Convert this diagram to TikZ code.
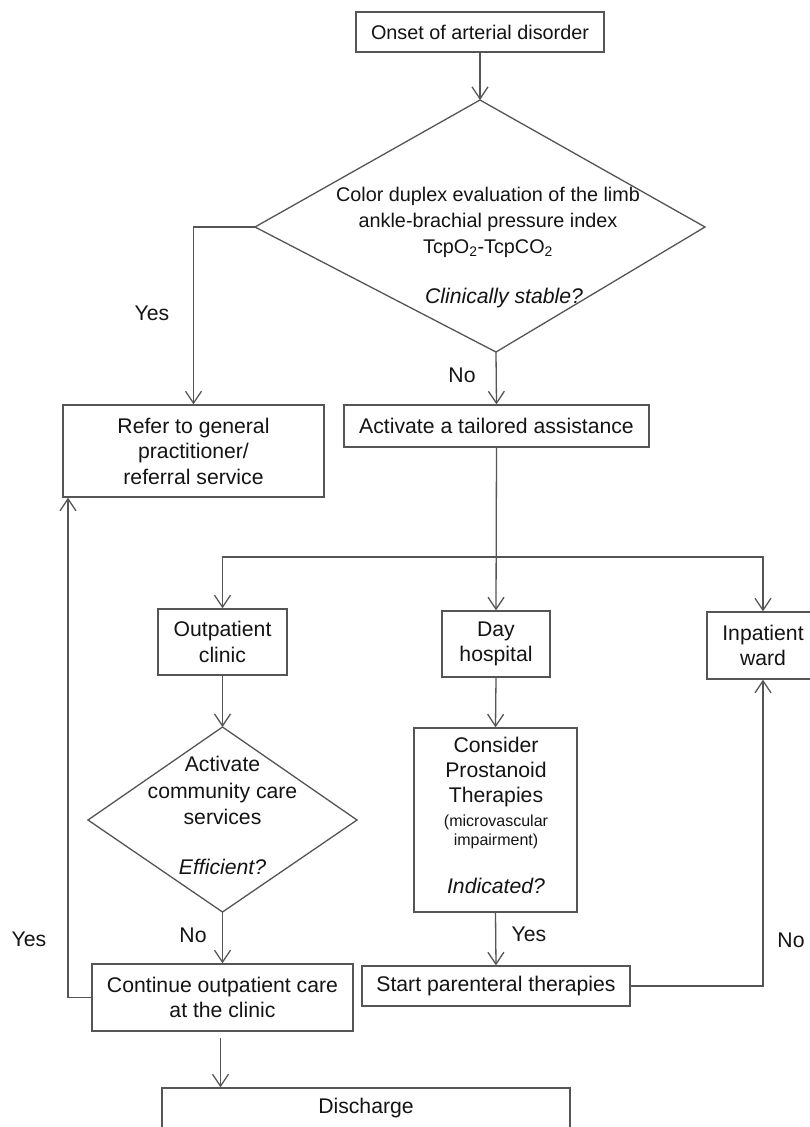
\documentclass[tikz,border=0pt]{standalone}
\usepackage{fontspec}
\setmainfont{Liberation Sans}
\usetikzlibrary{arrows.meta}
\definecolor{lc}{RGB}{85,85,85}
\definecolor{tc}{RGB}{20,20,20}
\newcommand\fmain{\fontsize{21.2bp}{25.5bp}\selectfont}
\newcommand\ftop{\fontsize{19.8bp}{26bp}\selectfont}
\newcommand\fsml{\fontsize{16bp}{19bp}\selectfont}
\begin{document}
\begin{tikzpicture}[x=1bp,y=-1bp,
  ln/.style={draw=lc, line width=1.3bp},
  arr/.style={ln, -{Straight Barb[length=12bp,width=16bp,line width=1.3bp]}},
  box/.style={ln, inner sep=0, align=center, text=tc, font=\fmain},
  lbl/.style={inner sep=0, text height=0.72em, text depth=0pt, text=tc, font=\fmain},
  tlbl/.style={lbl, font=\ftop},
  slbl/.style={lbl, font=\fsml},
  ilbl/.style={lbl, font=\fmain\itshape}]
\useasboundingbox (0,0) rectangle (810,1127);
\fill[white] (0,0) rectangle (810,1127);

% top box
\node[box, font=\ftop, minimum width=248bp, minimum height=40bp] (onset) at (480,32) {Onset of arterial disorder};

% big decision diamond
\coordinate (dt) at (480,100);
\coordinate (dl) at (255,227);
\coordinate (dr) at (705,227);
\coordinate (db) at (496,352);
\draw[ln] (dt) -- (dr) -- (db) -- (dl) -- cycle;
\node[tlbl] (d1) at (488,198) {Color duplex evaluation of the limb};
\node[tlbl] (d2) at (488,224) {ankle-brachial pressure index};
\node[tlbl] (d3) at (488,250) {TcpO\textsubscript{2}-TcpCO\textsubscript{2}};
\node[ilbl] (d4) at (504,300) {Clinically stable?};

% second row
\node[box, minimum width=261bp, minimum height=92bp] (refer) at (193.5,451) {Refer to general\\practitioner/\\referral service};
\node[box, minimum width=305bp, minimum height=42bp] (act) at (496.5,426) {Activate a tailored assistance};

% third row
\node[box, minimum width=129bp, minimum height=66bp] (outp) at (222.5,642) {Outpatient\\clinic};
\node[box, minimum width=108bp, minimum height=66bp] (day) at (496,644) {Day\\hospital};
\node[box, minimum width=112bp, minimum height=67bp] (inp) at (763,645.5) {Inpatient\\ward};

% small decision diamond
\coordinate (st) at (222.5,727);
\coordinate (sl) at (88,820);
\coordinate (sr) at (357,820);
\coordinate (sb) at (222.5,912);
\draw[ln] (st) -- (sr) -- (sb) -- (sl) -- cycle;
\node[lbl] (s1) at (222.5,768) {Activate};
\node[lbl] (s2) at (222.5,795) {community care};
\node[lbl] (s3) at (222.5,821) {services};
\node[ilbl] (s4) at (222.5,871) {Efficient?};

% consider box
\node[ln, inner sep=0, minimum width=163bp, minimum height=184bp] (cons) at (495.5,820) {};
\node[lbl] (c1) at (496,749) {Consider};
\node[lbl] (c2) at (496,774) {Prostanoid};
\node[lbl] (c3) at (496,799) {Therapies};
\node[slbl] (c4) at (496,823) {(microvascular};
\node[slbl] (c5) at (496,842) {impairment)};
\node[ilbl] (c6) at (496,890) {Indicated?};

% bottom rows
\node[box, minimum width=261bp, minimum height=67bp] (cont) at (222.5,997.5) {Continue outpatient care\\at the clinic};
\node[box, minimum width=268bp, minimum height=40bp] (start) at (496,986) {Start parenteral therapies};
\node[box, minimum width=408bp, minimum height=40bp] (dis) at (366,1108) {Discharge};

% connectors
\draw[arr] (onset.south) -- (dt);
\draw[arr] (dl) -| (refer.north);
\node[lbl] (yes1) at (152,317) {Yes};
\draw[arr] (db) -- (act.north);
\node[lbl] (no1) at (462,379) {No};

\coordinate (bus) at (496,557);
\draw[arr] (act.south) -- (day.north);
\draw[arr] (bus) -| (outp.north);
\draw[arr] (bus) -| (inp.north);

\draw[arr] (outp.south) -- (st);
\draw[arr] (day.south) -- (cons.north);

\draw[arr] (sb) -- (cont.north);
\node[lbl] (no2) at (193,939) {No};
\coordinate (yl) at (68,997.5);
\draw[arr] (cont.west) -- (yl) -- (yl |- refer.south);
\node[lbl] (yes2) at (29,943) {Yes};

\draw[arr] (cons.south) -- (start.north);
\node[lbl] (yes3) at (529,938) {Yes};
\draw[arr] (start.east) -| (inp.south);
\node[lbl] (no3) at (791,944) {No};

\draw[arr, shorten <=6bp] ([xshift=-2bp]cont.south) -- ([xshift=-2bp]cont.south |- dis.north);
\end{tikzpicture}
\end{document}
